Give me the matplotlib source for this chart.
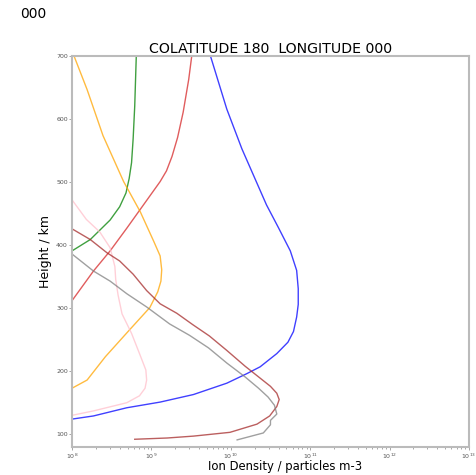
import numpy as np
import matplotlib
matplotlib.use("Agg")
import matplotlib.pyplot as plt

# ion density profiles, log10(density) vs height (km)
blue_logn = [8.0, 8.27, 8.69, 9.11, 9.53, 9.95, 10.20, 10.37, 10.58, 10.72, 10.79, 10.83, 10.85, 10.85, 10.83, 10.75, 10.60, 10.45, 10.14, 9.95, 9.74]
blue_h = [123, 128, 141, 150, 162, 180, 195, 206, 227, 245, 262, 285, 305, 330, 359, 390, 427, 463, 552, 615, 701]

red_logn = [8.0, 8.27, 8.48, 8.69, 8.90, 9.11, 9.19, 9.26, 9.33, 9.40, 9.47, 9.51]
red_h = [311, 358, 390, 426, 463, 500, 517, 540, 570, 610, 662, 701]

green_logn = [8.0, 8.23, 8.48, 8.60, 8.68, 8.72, 8.75, 8.77, 8.79, 8.81]
green_h = [390, 408, 439, 460, 482, 505, 530, 568, 620, 701]

orange_logn = [8.0, 8.19, 8.42, 8.72, 8.98, 9.08, 9.12, 9.13, 9.11, 9.03, 8.86, 8.65, 8.39, 8.19, 8.02]
orange_h = [172, 185, 222, 264, 300, 325, 342, 360, 382, 405, 452, 500, 573, 646, 701]

pink_logn = [8.0, 8.27, 8.69, 8.85, 8.92, 8.94, 8.93, 8.85, 8.75, 8.63, 8.58, 8.55, 8.54, 8.48, 8.35, 8.18, 8.0]
pink_h = [129, 136, 149, 160, 172, 185, 201, 227, 259, 290, 320, 345, 365, 395, 420, 440, 471]

brown_logn = [8.0, 8.23, 8.44, 8.60, 8.77, 8.94, 9.11, 9.32, 9.52, 9.73, 9.95, 10.18, 10.37, 10.50, 10.58, 10.61, 10.58, 10.49, 10.33, 9.99, 9.53, 9.2, 8.79]
brown_h = [425, 408, 387, 374, 353, 327, 306, 291, 273, 255, 232, 207, 188, 175, 164, 154, 143, 128, 115, 102, 96, 93, 91]

grey_logn = [8.0, 8.27, 8.48, 8.69, 8.94, 9.23, 9.48, 9.72, 9.95, 10.18, 10.35, 10.47, 10.55, 10.58, 10.50, 10.50, 10.41, 10.08]
grey_h = [385, 358, 342, 322, 301, 274, 256, 236, 212, 190, 172, 158, 145, 131, 121, 114, 101, 90]

profiles = [
    (blue_logn, blue_h, "blue"),
    (red_logn, red_h, "tab:red"),
    (green_logn, green_h, "green"),
    (orange_logn, orange_h, "orange"),
    (pink_logn, pink_h, "pink"),
    (brown_logn, brown_h, "brown"),
    (grey_logn, grey_h, "grey"),
]

fig = plt.figure(figsize=(4.77, 4.75), dpi=100)
ax = fig.add_axes([0.151, 0.058, 0.832, 0.825])

for logn, h, col in profiles:
    ax.plot(10 ** np.array(logn), h, color=col, alpha=0.75, lw=1.0)

ax.set_xscale("log")
ax.set_xlim(1e8, 1e13)
ax.set_ylim(78, 700)
ax.set_yticks([100, 200, 300, 400, 500, 600, 700])

for s in ax.spines.values():
    s.set_color("#bbbbbb")
    s.set_linewidth(1.5)
ax.tick_params(axis="both", which="both", labelsize=4.5, colors="#999999",
               labelcolor="#555555", length=2, width=0.6, pad=1)
ax.tick_params(axis="both", which="minor", length=1.2)

ax.set_title("COLATITUDE 180  LONGITUDE 000", fontsize=10.2, pad=2)
ax.set_xlabel("Ion Density / particles m-3", fontsize=8.4, va="bottom")
ax.xaxis.set_label_coords(0.597, 0.004, transform=fig.transFigure)
ax.set_ylabel("Height / km", fontsize=9)
ax.yaxis.set_label_coords(-0.05, 0.5)
fig.text(0.042, 0.97, "000", fontsize=10, va="center")

fig.savefig("out.png", dpi=100)
